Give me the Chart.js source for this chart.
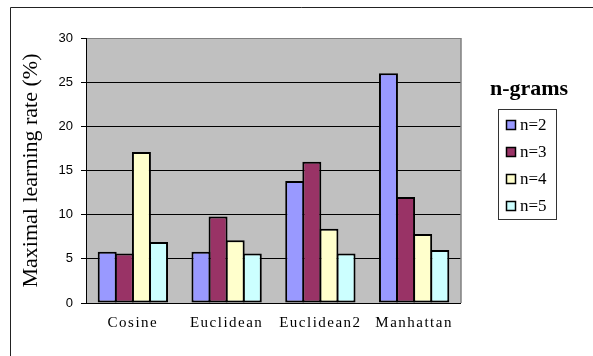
<!DOCTYPE html>
<html>
<head>
<meta charset="utf-8">
<script src="https://cdn.jsdelivr.net/npm/chart.js@4.4.0/dist/chart.umd.min.js"></script>
<style>
  html, body { margin: 0; padding: 0; background: #fff; }
</style>
</head>
<body>
<canvas id="chart" width="593" height="356"></canvas>
<script>
const categories = ['Cosine', 'Euclidean', 'Euclidean2', 'Manhattan'];
const seriesNames = ['n=2', 'n=3', 'n=4', 'n=5'];
const n2 = [5.8, 5.8, 13.8, 26.0];
const n3 = [5.6, 9.8, 16.0, 12.0];
const n4 = [17.1, 7.1, 8.4, 7.8];
const n5 = [6.9, 5.6, 5.6, 6.0];
const yTicks = [0, 5, 10, 15, 20, 25, 30];

const fillColors = ['#9999ff', '#993366', '#ffffcc', '#ccffff'];

// frame, grey plot area and the boxed legend on the right
const framePlugin = {
    id: 'frame',
    afterLayout(chart) {
        const xs = chart.scales.x;
        if (xs._spaced) return;
        const drawLabels = xs.drawLabels;
        xs.drawLabels = function (area) {
            this.ctx.save();
            this.ctx.letterSpacing = '1.5px';
            drawLabels.call(this, area);
            this.ctx.restore();
        };
        xs._spaced = true;
    },
    beforeDraw(chart) {
        const { ctx, chartArea: a } = chart;
        ctx.save();
        ctx.fillStyle = '#c0c0c0';
        ctx.fillRect(a.left, a.top, a.right - a.left, a.bottom - a.top);
        ctx.strokeStyle = '#222';
        ctx.lineWidth = 1;
        ctx.beginPath();
        ctx.moveTo(10.5, 356);
        ctx.lineTo(10.5, 7.5);
        ctx.lineTo(593, 7.5);
        ctx.stroke();
        ctx.restore();
    },
    beforeDatasetsDraw(chart) {
        const { ctx, chartArea: a } = chart;
        ctx.save();
        ctx.strokeStyle = '#808080';
        ctx.lineWidth = 1.5;
        ctx.beginPath();
        ctx.moveTo(a.right, a.top);
        ctx.lineTo(a.right, a.bottom);
        ctx.stroke();
        ctx.restore();
    },
    afterDraw(chart) {
        const ctx = chart.ctx;
        ctx.save();
        ctx.fillStyle = '#000';
        ctx.font = 'bold 22px "Liberation Serif"';
        ctx.textAlign = 'center';
        ctx.textBaseline = 'alphabetic';
        ctx.fillText('n-grams', 529, 95);

        ctx.strokeStyle = '#333';
        ctx.lineWidth = 1;
        ctx.strokeRect(498.5, 109.5, 58, 110);

        ctx.font = '17px "Liberation Serif"';
        ctx.textAlign = 'left';
        ctx.textBaseline = 'middle';
        chart.data.datasets.forEach((ds, i) => {
            const cy = 125 + i * 27;
            ctx.fillStyle = ds.backgroundColor;
            ctx.fillRect(506, cy - 5, 10, 10);
            ctx.strokeStyle = '#000';
            ctx.lineWidth = 1.5;
            ctx.strokeRect(506.5, cy - 4.5, 9, 9);
            ctx.fillStyle = '#000';
            ctx.fillText(ds.label, 520, cy + 1);
        });
        ctx.restore();
    }
};

const seriesValues = [n2, n3, n4, n5];

new Chart(document.getElementById('chart'), {
    type: 'bar',
    data: {
        labels: categories,
        datasets: seriesNames.map((name, i) => ({
            label: name,
            data: seriesValues[i],
            backgroundColor: fillColors[i],
            borderColor: '#000',
            borderWidth: 2,
            borderSkipped: false,
            // slightly over 1 so neighbouring bars share one outline
            barPercentage: 1.11,
            categoryPercentage: 0.73
        }))
    },
    options: {
        responsive: false,
        animation: false,
        layout: { padding: { left: 0, top: 38, right: 132, bottom: 0 } },
        plugins: {
            legend: { display: false },
            tooltip: { enabled: false }
        },
        scales: {
            x: {
                grid: { display: false, drawTicks: false },
                border: { display: false },
                ticks: {
                    font: { family: 'Liberation Serif', size: 15 },
                    color: '#000',
                    padding: 11,
                    maxRotation: 0
                },
                afterFit(scale) { scale.height = 53; }
            },
            y: {
                min: 0,
                max: 30,
                afterBuildTicks(scale) {
                    scale.ticks = yTicks.map(v => ({ value: v }));
                },
                ticks: {
                    font: { family: 'Liberation Sans', size: 13 },
                    color: '#000',
                    padding: 8
                },
                grid: {
                    color: c => (c.tick && c.tick.value === 30 ? '#808080' : '#000'),
                    tickColor: '#000',
                    tickLength: 5
                },
                border: { color: '#000', width: 1 },
                title: {
                    display: true,
                    text: 'Maximal learning rate (%)',
                    font: { family: 'Liberation Serif', size: 22 },
                    color: '#000',
                    padding: { top: 18, bottom: 0 }
                },
                afterFit(scale) { scale.width = 86; }
            }
        }
    },
    plugins: [framePlugin]
});
</script>
</body>
</html>
